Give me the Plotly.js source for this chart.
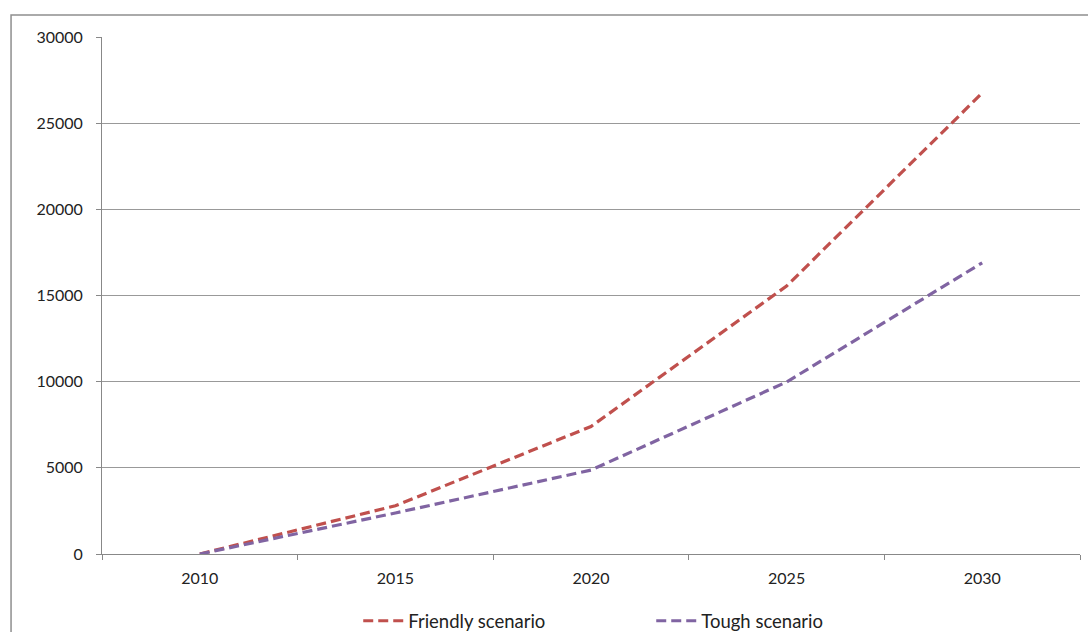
<!DOCTYPE html>
<html>
<head>
<meta charset="utf-8">
<script src="https://cdn.plot.ly/plotly-3.0.1.min.js"></script>
<style>
html,body{margin:0;padding:0;background:#fff;}
#chart{width:1088px;height:632px;}
</style>
</head>
<body>
<div id="chart"></div>
<script>
const years = ['2010', '2015', '2020', '2025', '2030'];
const friendly = [0, 2800, 7400, 15550, 26750];
const tough = [0, 2380, 4870, 9980, 16900];
const yTicks = [0, 5000, 10000, 15000, 20000, 25000, 30000];

const font = {family: 'Lato, "Open Sans", sans-serif', size: 16, color: '#222'};

const traces = [
  {x: years, y: friendly, name: 'Friendly scenario', type: 'scatter', mode: 'lines',
   line: {color: '#C0504D', width: 3.2, dash: '10px,5px'}},
  {x: years, y: tough, name: 'Tough scenario', type: 'scatter', mode: 'lines',
   line: {color: '#8064A2', width: 3.2, dash: '10px,5px'}}
];

const layout = {
  width: 1088, height: 632,
  margin: {l: 102, r: 8, t: 37, b: 78, autoexpand: false},
  paper_bgcolor: '#fff', plot_bgcolor: '#fff',
  font: font,
  showlegend: true,
  legend: {orientation: 'h', x: 0.262, xanchor: 'left', y: -0.13, yanchor: 'middle',
           font: {family: font.family, size: 18.5, color: '#222'}, entrywidth: 238, itemwidth: 40},
  xaxis: {type: 'category', range: [-0.5, 4.5], tickson: 'boundaries', ticks: 'outside', ticklen: 5,
          tickcolor: '#888', showline: true, linecolor: '#888', linewidth: 1, showgrid: false,
          zeroline: false, ticklabelstandoff: 10, tickfont: font},
  yaxis: {range: [0, 30000], tickvals: yTicks, ticktext: yTicks.map(String), ticks: 'outside', ticklen: 5,
          tickcolor: '#888', showline: true, linecolor: '#888', linewidth: 1, showgrid: true,
          gridcolor: '#999', gridwidth: 1, zeroline: false, ticklabelstandoff: 10, tickfont: font},
  shapes: [
    {type: 'rect', xref: 'paper', yref: 'paper', x0: -0.093, x1: 1.2, y0: -0.3, y1: 1.0426,
     line: {color: '#8f8f8f', width: 1.5}, fillcolor: 'rgba(0,0,0,0)', layer: 'below'}
  ]
};

Plotly.newPlot('chart', traces, layout, {staticPlot: true});
</script>
</body>
</html>
